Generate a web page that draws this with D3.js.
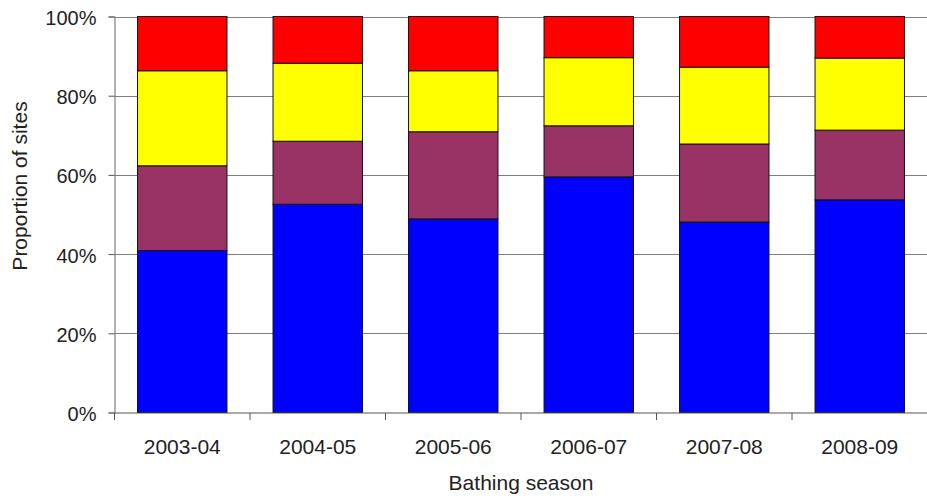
<!DOCTYPE html>
<html>
<head>
<meta charset="utf-8">
<script src="https://cdn.jsdelivr.net/npm/d3@7"></script>
<style>
  html, body { margin: 0; padding: 0; background: #fff; }
  svg { display: block; }
  text { font-family: "Liberation Sans", Arial, sans-serif; fill: #222; }
</style>
</head>
<body>
<svg id="chart" width="927" height="496"></svg>
<script>
// Bathing seasons on the x axis
const seasons = ["2003-04", "2004-05", "2005-06", "2006-07", "2007-08", "2008-09"];

// Share of sites (%) in each class, stacked bottom to top
const classBlue   = [40.9, 52.6, 48.9, 59.5, 48.1, 53.7];
const classMaroon = [21.4, 15.9, 22.0, 12.9, 19.7, 17.6];
const classYellow = [24.0, 19.7, 15.4, 17.2, 19.4, 18.2];
const classRed    = [13.7, 11.8, 13.7, 10.4, 12.8, 10.5];

const seriesKeys = ["blue", "maroon", "yellow", "red"];
const seriesColors = ["#0000ff", "#993366", "#ffff00", "#ff0000"];

// Y axis ticks (fractions)
const yTicks = [0, 0.2, 0.4, 0.6, 0.8, 1.0];

const rows = seasons.map((s, i) => ({
  season: s,
  blue: classBlue[i],
  maroon: classMaroon[i],
  yellow: classYellow[i],
  red: classRed[i]
}));

const svg = d3.select("#chart");
const plotLeft = 114.5, plotRight = 927.5, plotTop = 16.5, plotBottom = 412.5;

const x = d3.scaleBand()
  .domain(seasons)
  .range([plotLeft, plotRight])
  .paddingInner(0.34)
  .paddingOuter(0.17);

const y = d3.scaleLinear().domain([0, 1]).range([plotBottom, plotTop]);

const stack = d3.stack().keys(seriesKeys).offset(d3.stackOffsetExpand);
const layers = stack(rows);
const color = d3.scaleOrdinal().domain(seriesKeys).range(seriesColors);

// Horizontal gridlines
svg.append("g")
  .selectAll("line")
  .data(yTicks.filter(t => t > 0))
  .join("line")
  .attr("x1", plotLeft).attr("x2", 927)
  .attr("y1", d => Math.round(y(d)) + 0.5)
  .attr("y2", d => Math.round(y(d)) + 0.5)
  .attr("stroke", "#7f7f7f")
  .attr("stroke-width", 1.2);

// Stacked bars
svg.append("g")
  .selectAll("g")
  .data(layers)
  .join("g")
  .attr("fill", d => color(d.key))
  .selectAll("rect")
  .data(d => d)
  .join("rect")
  .attr("x", d => x(d.data.season))
  .attr("width", x.bandwidth())
  .attr("y", d => y(d[1]))
  .attr("height", d => y(d[0]) - y(d[1]))
  .attr("stroke", "#111")
  .attr("stroke-width", 1);

// Y axis
const yAxis = d3.axisLeft(y)
  .tickValues(yTicks)
  .tickFormat(d3.format(".0%"))
  .tickSize(6)
  .tickPadding(12);

const gy = svg.append("g")
  .attr("transform", `translate(${plotLeft},0)`)
  .call(yAxis);
gy.select(".domain").attr("stroke", "#7f7f7f").attr("stroke-width", 1.2);
gy.selectAll(".tick line").attr("stroke", "#555");
gy.selectAll(".tick text")
  .style("font-size", "20px")
  .attr("fill", "#222")
  .attr("dy", "0.4em");

// X axis: ticks at category boundaries
const gx = svg.append("g")
  .attr("transform", `translate(0,${Math.round(plotBottom)})`);
gx.append("line")
  .attr("x1", plotLeft).attr("x2", 927)
  .attr("y1", 0).attr("y2", 0)
  .attr("stroke", "#555").attr("stroke-width", 1.2);
const boundaries = seasons.map(s => x(s) - x.step() * x.paddingInner() / 2);
boundaries[0] = plotLeft;
gx.selectAll("line.tk")
  .data(boundaries)
  .join("line")
  .attr("class", "tk")
  .attr("x1", d => d).attr("x2", d => d)
  .attr("y1", 0).attr("y2", 7)
  .attr("stroke", "#555");
gx.selectAll("text")
  .data(seasons)
  .join("text")
  .attr("x", d => x(d) + x.bandwidth() / 2)
  .attr("y", 41)
  .attr("text-anchor", "middle")
  .style("font-size", "21px")
  .text(d => d);

// Axis titles
svg.append("text")
  .attr("transform", "translate(27,186) rotate(-90)")
  .attr("text-anchor", "middle")
  .style("font-size", "21px")
  .text("Proportion of sites");

svg.append("text")
  .attr("x", 521)
  .attr("y", 490)
  .attr("text-anchor", "middle")
  .style("font-size", "21px")
  .text("Bathing season");
</script>
</body>
</html>
